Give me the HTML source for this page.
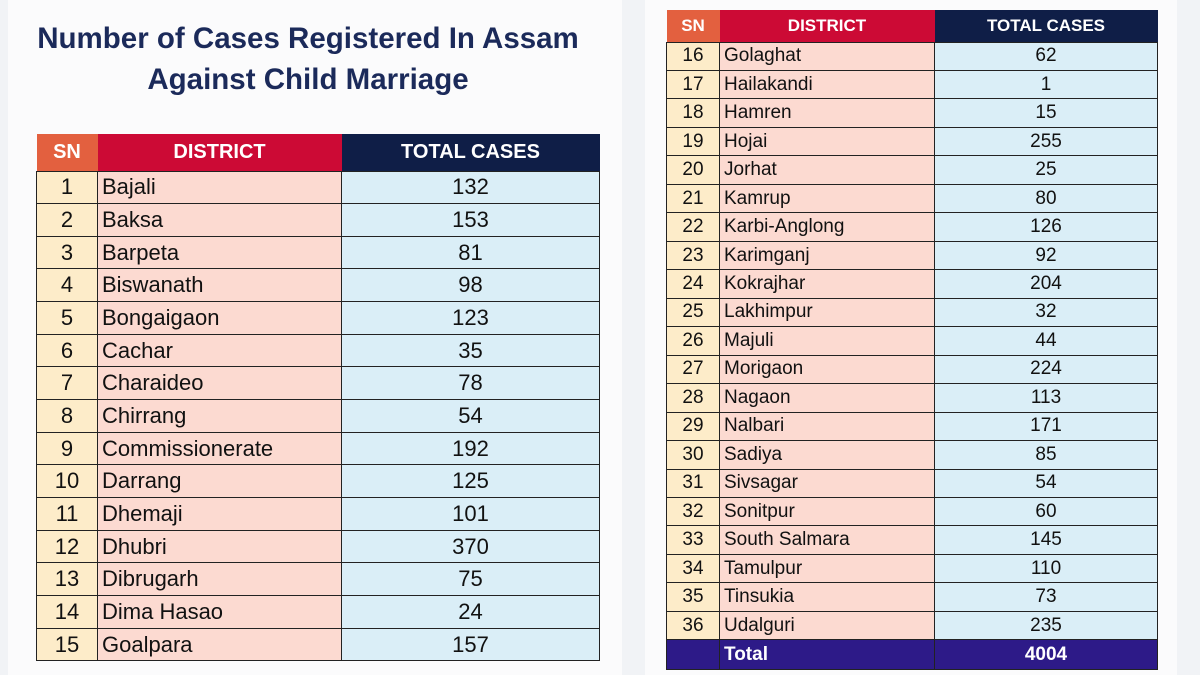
<!DOCTYPE html>
<html><head><meta charset="utf-8"><style>
body{margin:0;width:1200px;height:675px;background:#f1f3f6;position:relative;overflow:hidden;font-family:"Liberation Sans",sans-serif;}
.panel{position:absolute;background:#fbfbfc;}
h1{position:absolute;left:8px;top:18px;width:600px;margin:0;text-align:center;font-size:29.5px;line-height:41px;color:#1b2a5a;font-weight:bold;}
table{position:absolute;border-collapse:collapse;table-layout:fixed;color:#111;}
td{border:1.5px solid #222;padding:0;}
th{padding:0;color:#fff;font-weight:bold;}
.s{background:#fdecc9;text-align:center;}
.d{background:#fcdad1;padding-left:4px;}
.t{background:#daeef7;text-align:center;}
th.s{background:#e3603f;color:#fff}
th.d{background:#cc0a35;text-align:center;padding:0}
th.t{background:#0f1e47}
#L{left:36px;top:134px;width:563px;font-size:22px;}
#L tr{height:32.67px}
#L tr.h{height:37px}
#L th{font-size:20px}
#R{left:666px;top:10px;width:491px;font-size:19px;}
#R tr{height:28.48px}
#R tr.h{height:32px}
#R th{font-size:17px}
#R tr.tot td{background:#2d1a88;color:#fff;font-weight:bold;height:29px}
</style></head><body>
<div class="panel" style="left:8px;top:0;width:614px;height:675px"></div>
<div class="panel" style="left:645px;top:0;width:532px;height:675px"></div>
<h1>Number of Cases Registered In Assam<br>Against Child Marriage</h1>
<table id="L"><colgroup><col style="width:61px"><col style="width:244px"><col style="width:258px"></colgroup>
<tr class="h"><th class="s">SN</th><th class="d">DISTRICT</th><th class="t">TOTAL CASES</th></tr>
<tr><td class="s">1</td><td class="d">Bajali</td><td class="t">132</td></tr>
<tr><td class="s">2</td><td class="d">Baksa</td><td class="t">153</td></tr>
<tr><td class="s">3</td><td class="d">Barpeta</td><td class="t">81</td></tr>
<tr><td class="s">4</td><td class="d">Biswanath</td><td class="t">98</td></tr>
<tr><td class="s">5</td><td class="d">Bongaigaon</td><td class="t">123</td></tr>
<tr><td class="s">6</td><td class="d">Cachar</td><td class="t">35</td></tr>
<tr><td class="s">7</td><td class="d">Charaideo</td><td class="t">78</td></tr>
<tr><td class="s">8</td><td class="d">Chirrang</td><td class="t">54</td></tr>
<tr><td class="s">9</td><td class="d">Commissionerate</td><td class="t">192</td></tr>
<tr><td class="s">10</td><td class="d">Darrang</td><td class="t">125</td></tr>
<tr><td class="s">11</td><td class="d">Dhemaji</td><td class="t">101</td></tr>
<tr><td class="s">12</td><td class="d">Dhubri</td><td class="t">370</td></tr>
<tr><td class="s">13</td><td class="d">Dibrugarh</td><td class="t">75</td></tr>
<tr><td class="s">14</td><td class="d">Dima Hasao</td><td class="t">24</td></tr>
<tr><td class="s">15</td><td class="d">Goalpara</td><td class="t">157</td></tr>
</table>
<table id="R"><colgroup><col style="width:53px"><col style="width:215px"><col style="width:223px"></colgroup>
<tr class="h"><th class="s">SN</th><th class="d">DISTRICT</th><th class="t">TOTAL CASES</th></tr>
<tr><td class="s">16</td><td class="d">Golaghat</td><td class="t">62</td></tr>
<tr><td class="s">17</td><td class="d">Hailakandi</td><td class="t">1</td></tr>
<tr><td class="s">18</td><td class="d">Hamren</td><td class="t">15</td></tr>
<tr><td class="s">19</td><td class="d">Hojai</td><td class="t">255</td></tr>
<tr><td class="s">20</td><td class="d">Jorhat</td><td class="t">25</td></tr>
<tr><td class="s">21</td><td class="d">Kamrup</td><td class="t">80</td></tr>
<tr><td class="s">22</td><td class="d">Karbi-Anglong</td><td class="t">126</td></tr>
<tr><td class="s">23</td><td class="d">Karimganj</td><td class="t">92</td></tr>
<tr><td class="s">24</td><td class="d">Kokrajhar</td><td class="t">204</td></tr>
<tr><td class="s">25</td><td class="d">Lakhimpur</td><td class="t">32</td></tr>
<tr><td class="s">26</td><td class="d">Majuli</td><td class="t">44</td></tr>
<tr><td class="s">27</td><td class="d">Morigaon</td><td class="t">224</td></tr>
<tr><td class="s">28</td><td class="d">Nagaon</td><td class="t">113</td></tr>
<tr><td class="s">29</td><td class="d">Nalbari</td><td class="t">171</td></tr>
<tr><td class="s">30</td><td class="d">Sadiya</td><td class="t">85</td></tr>
<tr><td class="s">31</td><td class="d">Sivsagar</td><td class="t">54</td></tr>
<tr><td class="s">32</td><td class="d">Sonitpur</td><td class="t">60</td></tr>
<tr><td class="s">33</td><td class="d">South Salmara</td><td class="t">145</td></tr>
<tr><td class="s">34</td><td class="d">Tamulpur</td><td class="t">110</td></tr>
<tr><td class="s">35</td><td class="d">Tinsukia</td><td class="t">73</td></tr>
<tr><td class="s">36</td><td class="d">Udalguri</td><td class="t">235</td></tr>
<tr class="tot"><td class="s"></td><td class="d">Total</td><td class="t">4004</td></tr>
</table>
</body></html>
